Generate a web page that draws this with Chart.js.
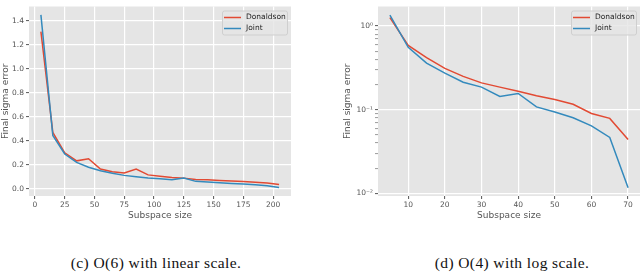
<!DOCTYPE html>
<html lang="en">
<head>
    <meta charset="UTF-8">
    <title>sigma error</title>
    <style>
        body { margin: 0; background: #fff; width: 640px; height: 277px; position: relative; overflow: hidden; }
        #c1 { position: absolute; left: 0; top: 0; }
        #c2 { position: absolute; left: 320px; top: 0; }
        .cap { position: absolute; top: 254px; font-family: "Liberation Serif", "DejaVu Serif", serif; font-size: 15.5px; letter-spacing: 0.4px; color: #111; white-space: nowrap; transform: translateX(-50%); }
    </style>
</head>
<body>
    <canvas id="c1" width="310" height="222"></canvas>
    <canvas id="c2" width="320" height="222"></canvas>
    <div class="cap" style="left:156px">(c) O(6) with linear scale.</div>
    <div class="cap" style="left:512px">(d) O(4) with log scale.</div>

    <script src="https://cdn.jsdelivr.net/npm/chart.js"></script>
    <script>
        // ---- data: O(6), linear scale ----
        const sizesLin = [5, 15, 25, 35, 45, 55, 65, 75, 85, 95, 105, 115, 125, 135, 145, 155, 165, 175, 185, 195, 205];
        const donaldsonLin = [1.31, 0.47, 0.30, 0.233, 0.251, 0.165, 0.143, 0.132, 0.165, 0.116, 0.105, 0.095, 0.089, 0.078, 0.075, 0.07, 0.065, 0.06, 0.055, 0.048, 0.035];
        const jointLin = [1.45, 0.445, 0.29, 0.22, 0.18, 0.15, 0.13, 0.112, 0.10, 0.09, 0.083, 0.076, 0.089, 0.062, 0.056, 0.05, 0.045, 0.04, 0.034, 0.026, 0.011];
        const xTicksLin = [0, 25, 50, 75, 100, 125, 150, 175, 200];
        const yTicksLin = [0, 0.2, 0.4, 0.6, 0.8, 1.0, 1.2, 1.4];

        // ---- data: O(4), log scale ----
        const sizesLog = [5, 10, 15, 20, 25, 30, 35, 40, 45, 50, 55, 60, 65, 70];
        const donaldsonLog = [1.26, 0.587, 0.418, 0.312, 0.25, 0.209, 0.186, 0.166, 0.147, 0.132, 0.116, 0.090, 0.0787, 0.0441];
        const jointLog = [1.35, 0.556, 0.36, 0.273, 0.213, 0.186, 0.144, 0.156, 0.108, 0.094, 0.080, 0.064, 0.0466, 0.0117];
        const xTicksLog = [10, 20, 30, 40, 50, 60, 70];
        const yTicksLog = [0.01, 0.02, 0.03, 0.04, 0.05, 0.06, 0.07, 0.08, 0.09,
                           0.1, 0.2, 0.3, 0.4, 0.5, 0.6, 0.7, 0.8, 0.9, 1];
        const seriesNames = ['Donaldson', 'Joint'];
        const seriesColors = ['#E24A33', '#348ABD'];

        const FONT = "'DejaVu Sans', sans-serif";
        const GRAY = '#555555';

        // gray panel behind the plot (ggplot look)
        const panelBg = {
            id: 'panelBg',
            beforeDraw(chart) {
                const a = chart.chartArea, c = chart.ctx;
                c.save();
                c.fillStyle = '#E5E5E5';
                c.fillRect(a.left, a.top, a.right - a.left, a.bottom - a.top);
                c.restore();
            }
        };

        // matplotlib-like legend in the upper right of the plot
        const cornerLegend = {
            id: 'cornerLegend',
            afterDatasetsDraw(chart) {
                const a = chart.chartArea, c = chart.ctx;
                const w = 65, h = 24;
                const x = a.right - 4 - w, y = a.top + 4;
                c.save();
                c.beginPath();
                c.roundRect(x + 0.5, y + 0.5, w, h, 2);
                c.fillStyle = 'rgba(229,229,229,0.8)';
                c.fill();
                c.strokeStyle = '#cfcfcf';
                c.lineWidth = 1;
                c.stroke();
                c.font = '7.5px ' + FONT;
                c.textBaseline = 'middle';
                c.fillStyle = '#222';
                seriesNames.forEach(function (name, i) {
                    const ry = y + 7 + i * 11;
                    c.beginPath();
                    c.moveTo(x + 2, ry);
                    c.lineTo(x + 19, ry);
                    c.strokeStyle = seriesColors[i];
                    c.lineWidth = 1.5;
                    c.stroke();
                    c.fillText(name, x + 24, ry);
                });
                c.restore();
            }
        };

        function pairs(xs, ys) {
            return xs.map(function (x, i) { return { x: x, y: ys[i] }; });
        }

        function makeDatasets(xs, d, j) {
            return [
                { label: seriesNames[0], data: pairs(xs, d), borderColor: seriesColors[0], order: 1 },
                { label: seriesNames[1], data: pairs(xs, j), borderColor: seriesColors[1], order: 0 }
            ];
        }

        function axisCommon(title) {
            return {
                border: { display: false },
                grid: { color: '#ffffff', lineWidth: 1.2, tickColor: GRAY, tickLength: 3, tickWidth: 1 },
                ticks: { color: GRAY, font: { family: FONT, size: 7.5 }, padding: 2, maxRotation: 0, autoSkip: false },
                title: { display: true, text: title, color: GRAY, font: { family: FONT, size: 9 }, padding: { top: 0, bottom: 1 } }
            };
        }

        const baseOptions = {
            responsive: false,
            devicePixelRatio: 1,
            animation: false,
            elements: { point: { radius: 0 }, line: { borderWidth: 1.5, tension: 0 } },
            plugins: { legend: { display: false }, tooltip: { enabled: false } }
        };

        // ---- left chart ----
        const xL = axisCommon('Subspace size');
        Object.assign(xL, {
            type: 'linear', min: -5, max: 215,
            afterBuildTicks: function (s) { s.ticks = xTicksLin.map(function (v) { return { value: v }; }); },
            afterFit: function (s) { s.height = 26; }
        });
        const yL = axisCommon('Final sigma error');
        yL.title.padding = { top: 0, bottom: 3 };
        Object.assign(yL, {
            type: 'linear', min: -0.06, max: 1.52,
            afterBuildTicks: function (s) { s.ticks = yTicksLin.map(function (v) { return { value: v }; }); },
            afterFit: function (s) { s.width = 29; }
        });
        yL.ticks.callback = function (v) { return v.toFixed(1); };

        new Chart(document.getElementById('c1'), {
            type: 'line',
            data: { datasets: makeDatasets(sizesLin, donaldsonLin, jointLin) },
            options: Object.assign({}, baseOptions, {
                layout: { padding: { left: 0, right: 19, top: 1, bottom: 0 } },
                scales: { x: xL, y: yL }
            }),
            plugins: [panelBg, cornerLegend]
        });

        // ---- right chart ----
        const sup = { '0': '⁰', '1': '¹', '2': '²', '-': '⁻' };
        function isPow10(v) {
            const e = Math.log10(v);
            return Math.abs(e - Math.round(e)) < 1e-9;
        }
        const xR = axisCommon('Subspace size');
        Object.assign(xR, {
            type: 'linear', min: 1.75, max: 73.25,
            afterBuildTicks: function (s) { s.ticks = xTicksLog.map(function (v) { return { value: v }; }); },
            afterFit: function (s) { s.height = 26; }
        });
        const yR = axisCommon('Final sigma error');
        yR.title.padding = { top: 0, bottom: 3 };
        Object.assign(yR, {
            type: 'logarithmic', min: 0.0093, max: 1.71,
            afterBuildTicks: function (s) { s.ticks = yTicksLog.map(function (v) { return { value: v, major: isPow10(v) }; }); },
            afterFit: function (s) { s.width = 36; }
        });
        yR.ticks.callback = function (v) {
            if (!isPow10(v)) return '';
            const e = String(Math.round(Math.log10(v)));
            return '10' + e.split('').map(function (ch) { return sup[ch]; }).join('');
        };
        yR.grid.color = function (ctx) {
            return ctx.tick && isPow10(ctx.tick.value) ? '#ffffff' : 'rgba(0,0,0,0)';
        };
        yR.grid.tickColor = function (ctx) {
            return ctx.tick && isPow10(ctx.tick.value) ? GRAY : '#9a9a9a';
        };

        new Chart(document.getElementById('c2'), {
            type: 'line',
            data: { datasets: makeDatasets(sizesLog, donaldsonLog, jointLog) },
            options: Object.assign({}, baseOptions, {
                layout: { padding: { left: 22, right: 0, top: 1, bottom: 0 } },
                scales: { x: xR, y: yR }
            }),
            plugins: [panelBg, cornerLegend]
        });
    </script>
</body>
</html>
